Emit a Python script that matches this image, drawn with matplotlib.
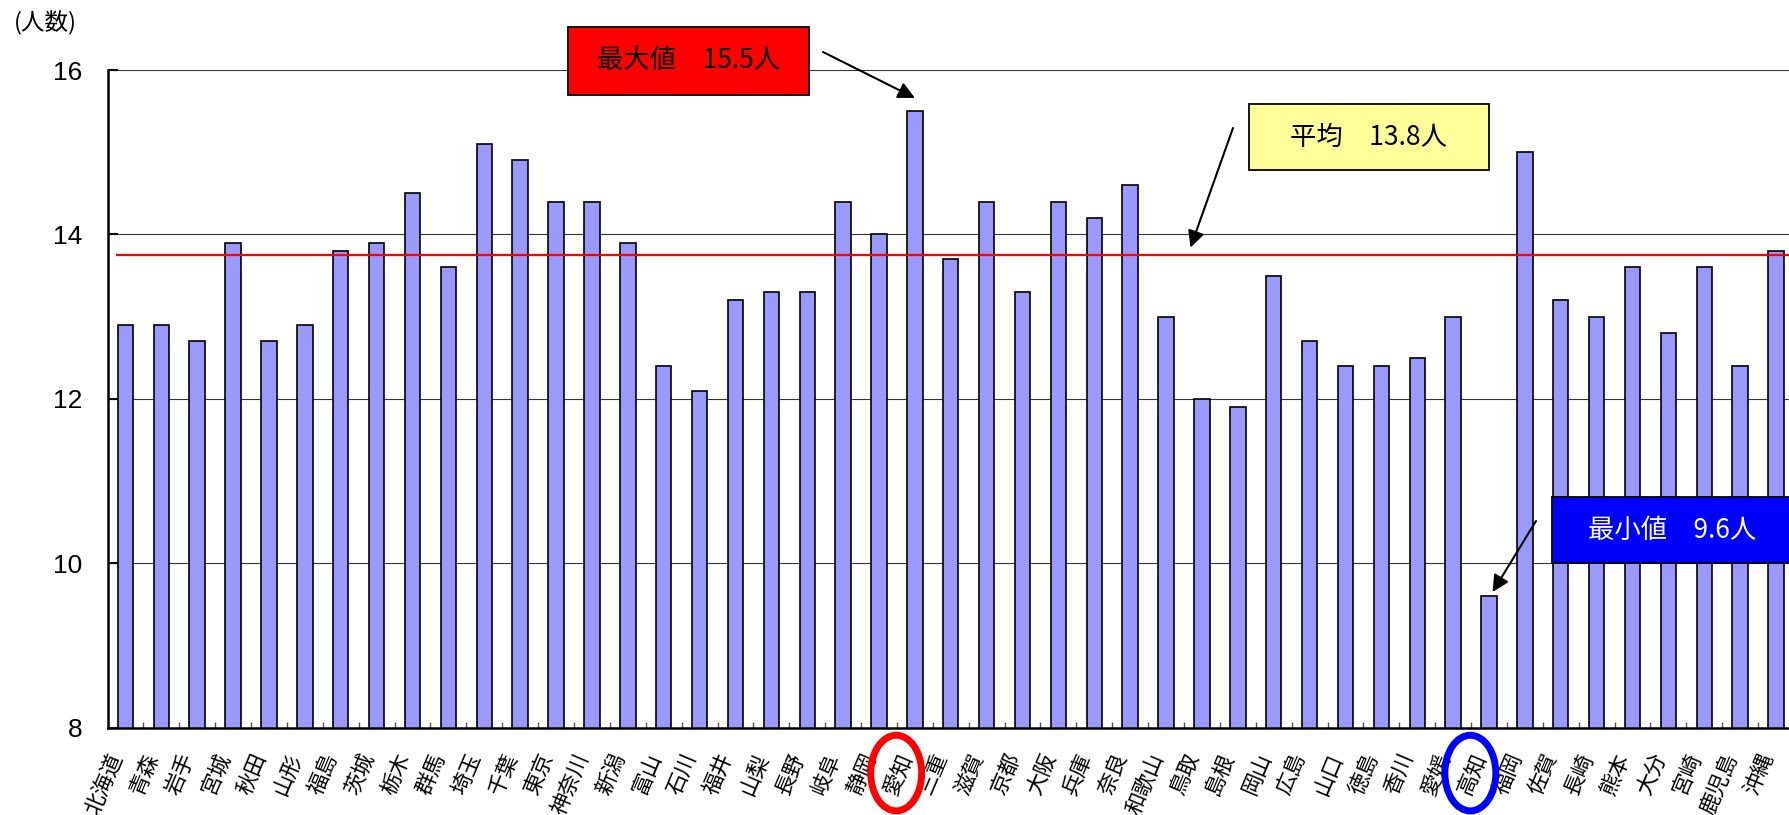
import matplotlib
matplotlib.use("Agg")
import matplotlib.pyplot as plt
from matplotlib.patches import Rectangle, Ellipse
from matplotlib.ticker import FixedLocator
from matplotlib.transforms import ScaledTranslation

prefectures = ["北海道", "青森", "岩手", "宮城", "秋田", "山形", "福島", "茨城", "栃木", "群馬",
               "埼玉", "千葉", "東京", "神奈川", "新潟", "富山", "石川", "福井", "山梨", "長野",
               "岐阜", "静岡", "愛知", "三重", "滋賀", "京都", "大阪", "兵庫", "奈良", "和歌山",
               "鳥取", "島根", "岡山", "広島", "山口", "徳島", "香川", "愛媛", "高知", "福岡",
               "佐賀", "長崎", "熊本", "大分", "宮崎", "鹿児島", "沖縄"]
values = [12.9, 12.9, 12.7, 13.9, 12.7, 12.9, 13.8, 13.9, 14.5, 13.6,
          15.1, 14.9, 14.4, 14.4, 13.9, 12.4, 12.1, 13.2, 13.3, 13.3,
          14.4, 14.0, 15.5, 13.7, 14.4, 13.3, 14.4, 14.2, 14.6, 13.0,
          12.0, 11.9, 13.5, 12.7, 12.4, 12.4, 12.5, 13.0, 9.6, 15.0,
          13.2, 13.0, 13.6, 12.8, 13.6, 12.4, 13.8]
average = 13.75
yticks = [8, 10, 12, 14, 16]

max_text = "最大値　15.5人"
avg_text = "平均　13.8人"
min_text = "最小値　9.6人"

JP = ["Noto Sans CJK JP", "DejaVu Sans"]
NUM = ["Liberation Sans", "Noto Sans CJK JP"]

W, H = 1789, 815
fig = plt.figure(figsize=(W / 100, H / 100), dpi=100)
ax = fig.add_axes([107.5 / W, (H - 727.7) / H, (1794 - 107.5) / W, 657.7 / H])

n = len(values)
x = list(range(n))
ax.bar(x, values, width=0.43, color="#9999FF", edgecolor="black", linewidth=1.2, zorder=2)
ax.set_xlim(-0.5, n - 0.5)
ax.set_ylim(8, 16)
ax.set_axisbelow(True)
ax.yaxis.grid(True, color="#333333", linewidth=0.8)

# average line
ax.hlines(average, -0.25, n - 0.5, color="red", linewidth=1.6, zorder=3)

for s in ["top", "right"]:
    ax.spines[s].set_visible(False)
ax.spines["left"].set_linewidth(1.8)
ax.spines["bottom"].set_linewidth(1.8)

ax.set_yticks(yticks)
ax.set_yticklabels([str(t) for t in yticks], fontfamily=NUM, fontsize=19)
ax.tick_params(axis="y", direction="in", length=7, width=1.5, pad=18)

ax.set_xticks(x)
ax.set_xticklabels(prefectures, fontfamily=JP, fontsize=15.5)
ax.tick_params(axis="x", which="major", length=0, pad=19)
ax.xaxis.set_minor_locator(FixedLocator([i + 0.5 for i in range(n - 1)]))
ax.tick_params(axis="x", which="minor", direction="in", length=4, width=1, color="#555555")
shift = ScaledTranslation(-6 / 72, 0, fig.dpi_scale_trans)
for lab in ax.get_xticklabels():
    lab.set_rotation(67)
    lab.set_ha("right")
    lab.set_va("center")
    lab.set_rotation_mode("anchor")
    lab.set_transform(lab.get_transform() + shift)

# y unit label
fig.text(14 / W, (H - 23) / H, "(人数)", fontfamily=JP, fontsize=17, ha="left", va="center")

# annotation boxes (figure pixel coords, y from top)
def box(x0, y0, x1, y1, fc, text, tc, cx=None):
    fig.patches.append(Rectangle((x0 / W, (H - y1) / H), (x1 - x0) / W, (y1 - y0) / H,
                                 transform=fig.transFigure, facecolor=fc, edgecolor="black",
                                 linewidth=1.3, zorder=5))
    if cx is None:
        cx = (x0 + x1) / 2
    fig.text(cx / W, (H - (y0 + y1) / 2) / H, text, fontfamily=JP, fontsize=19,
             color=tc, ha="center", va="center", zorder=6)

box(568, 27, 809, 95, "#FF0000", max_text, "black")
box(1249, 104, 1489, 170, "#FFFF99", avg_text, "black")
box(1552, 497, 1800, 563, "#0000FF", min_text, "white", cx=1672)

arrow = dict(arrowstyle="-|>", color="black", lw=1.5, mutation_scale=25, shrinkA=0, shrinkB=0)
imax = values.index(max(values))
imin = values.index(min(values))
ax.annotate("", xy=(imax, max(values) + 0.16), xycoords="data",
            xytext=(823, H - 52), textcoords="figure pixels", arrowprops=arrow, zorder=6)
ax.annotate("", xy=(29.68, average + 0.09), xycoords="data",
            xytext=(1233, H - 128), textcoords="figure pixels", arrowprops=arrow, zorder=6)
ax.annotate("", xy=(imin + 0.1, min(values) + 0.05), xycoords="data",
            xytext=(1536, H - 521), textcoords="figure pixels", arrowprops=arrow, zorder=6)

# ellipses around max/min labels
tr = ax.get_xaxis_transform()
for idx, col in [(imax, "red"), (imin, "blue")]:
    e = Ellipse((idx - 0.52, -0.069), 1.42, 0.115, transform=tr, fill=False,
                edgecolor=col, linewidth=5, clip_on=False, zorder=6)
    ax.add_patch(e)

fig.savefig("out.png", dpi=100)
